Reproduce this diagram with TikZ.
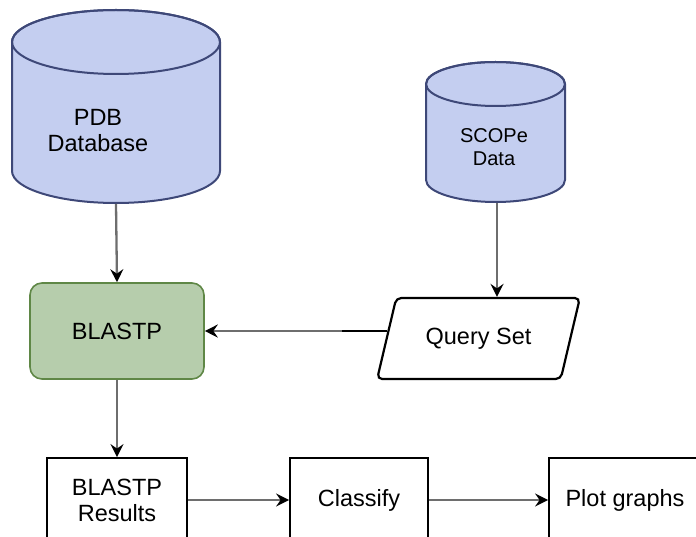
\documentclass[tikz,border=0pt]{standalone}
\usepackage{fontspec}
\setmainfont{Liberation Sans}
\usetikzlibrary{arrows.meta,shapes.geometric,calc}
\definecolor{cylfill}{RGB}{196,206,240}
\definecolor{cyldraw}{RGB}{62,72,120}
\definecolor{grfill}{RGB}{182,205,172}
\definecolor{grdraw}{RGB}{95,135,70}
\definecolor{lnc}{RGB}{110,110,110}
\begin{document}
\begin{tikzpicture}[x=1pt,y=1pt,
  txt/.style={font=\fontsize{23.5}{26}\selectfont, align=center, text=black},
  cyl/.style={fill=cylfill, draw=cyldraw, line width=2pt},
  arr/.style={draw=lnc, line width=2.3pt, -{Stealth[length=13pt,width=13pt,inset=4.5pt,color=black]}},
  box/.style={draw=black, line width=1.8pt, fill=white, txt},
]
\useasboundingbox (0,0) rectangle (696,-537);
\clip (0,0) rectangle (696,-537);

% PDB cylinder
\path[cyl] (12,-42) -- (12,-171) arc[start angle=180,end angle=360,x radius=104pt,y radius=32pt] -- (220,-42) arc[start angle=0,end angle=180,x radius=104pt,y radius=32pt] -- cycle;
\draw[cyl, fill=none] (116,-42) ellipse[x radius=104pt, y radius=32pt];
\node[txt] (pdb) at (98,-131) {PDB\\Database};
\coordinate (pdbb) at (116,-204);

% SCOPe cylinder
\path[cyl] (426,-84) -- (426,-180) arc[start angle=180,end angle=360,x radius=69.5pt,y radius=22pt] -- (565,-84) arc[start angle=0,end angle=180,x radius=69.5pt,y radius=22pt] -- cycle;
\draw[cyl, fill=none] (495.5,-84) ellipse[x radius=69.5pt, y radius=22pt];
\node[font=\fontsize{20}{22.5}\selectfont, align=center] (sc) at (494,-147) {SCOPe\\Data};
\coordinate (scb) at (497,-203);

% BLASTP
\node[draw=grdraw, fill=grfill, line width=1.6pt, rounded corners=12pt, minimum width=174pt, minimum height=96pt, txt] (bl) at (117,-331) {BLASTP};

% Query Set
\node[trapezium, trapezium left angle=60, trapezium right angle=120, trapezium stretches=true, draw=black, line width=2.2pt, rounded corners=5pt, minimum width=203pt, minimum height=81pt, inner sep=0pt, txt] (q) at (478.5,-338.5) {Query Set};

% lower boxes
\node[box, minimum width=140pt, minimum height=84pt] (res) at (117,-500) {BLASTP\\Results};
\node[box, minimum width=138pt, minimum height=84pt] (cls) at (359,-500) {Classify};
\node[box, minimum width=152pt, minimum height=84pt] (plot) at (625,-500) {Plot graphs};

% connectors
\draw[arr] (pdbb) -- (bl.north);
\draw[arr] (scb) -- (scb |- q.north);
\coordinate (qin) at ($(q.bottom left corner)!0.59!(q.top left corner)$);
\coordinate (qmid) at (342,-331);
\draw[black, line width=2.2pt] (qin) -- (qin -| qmid);
\draw[arr] (qin -| qmid) -- (qin -| bl.east);
\draw[arr] (bl.south) -- (res.north);
\draw[arr] (res.east) -- (cls.west);
\draw[arr] (cls.east) -- (plot.west);
\end{tikzpicture}
\end{document}
